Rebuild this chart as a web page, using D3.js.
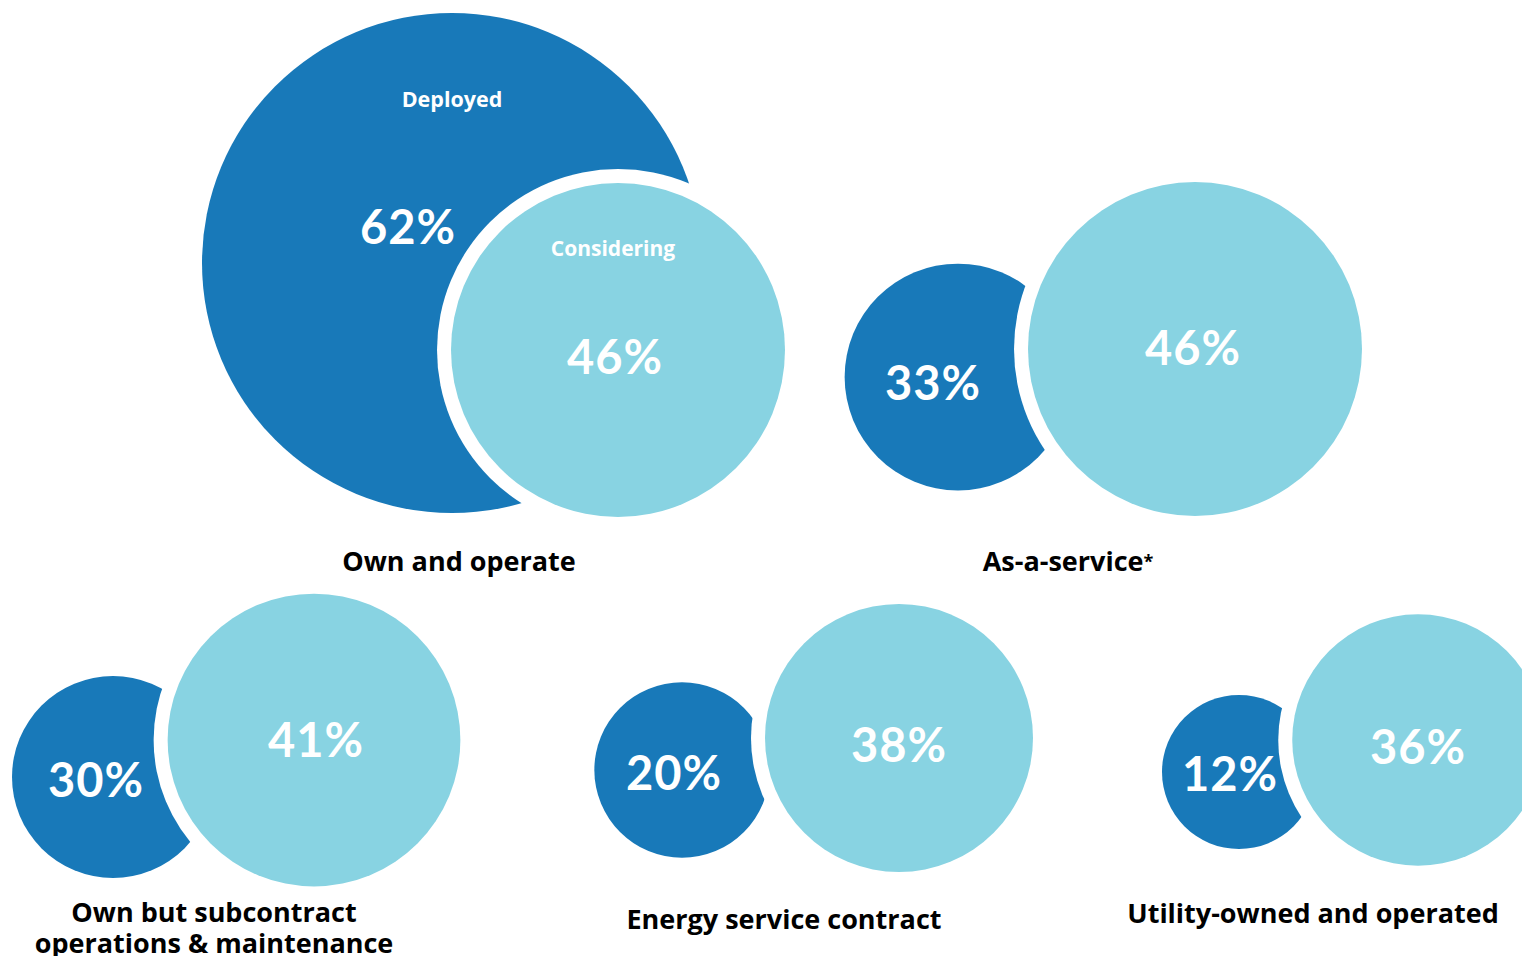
<!DOCTYPE html>
<html>
<head>
<meta charset="utf-8">
<script src="https://cdn.jsdelivr.net/npm/d3@7"></script>
<style>
  html, body { margin: 0; padding: 0; background: #ffffff; }
  svg { display: block; }
</style>
</head>
<body>
<svg id="chart" width="1522" height="956"></svg>
<script>
// ---------- data ----------
const categories = [
  "Own and operate",
  "As-a-service*",
  "Own but subcontract operations & maintenance",
  "Energy service contract",
  "Utility-owned and operated"
];
const seriesNames = ["Deployed", "Considering"];
const deployedValues = [62, 33, 30, 20, 12];
const consideringValues = [46, 46, 41, 38, 36];

// ---------- layout (positions only) ----------
const layout = [
  { d: [452, 263], c: [618, 350], dl: [408, 227], cl: [615, 357], t: [459, 571], lines: ["Own and operate"] },
  { d: [958, 377], c: [1195, 349], dl: [933, 383], cl: [1193, 348], t: [1068, 571], lines: ["As-a-service"], star: true },
  { d: [113, 777], c: [314, 740], dl: [96, 780], cl: [316, 740], t: [214, 922], lines: ["Own but subcontract", "operations & maintenance"] },
  { d: [682, 770], c: [899, 738], dl: [674, 773], cl: [899, 745], t: [784, 929], lines: ["Energy service contract"] },
  { d: [1239, 772], c: [1418, 740], dl: [1230, 774], cl: [1418, 747], t: [1313, 923], lines: ["Utility-owned and operated"] }
];

const colorDeployed = "#1879b9";
const colorConsidering = "#88d3e2";
const gap = 14;

const svg = d3.select("#chart");

// radius scale: value (%) -> radius (px)
const r = d3.scaleLinear().domain([12, 30, 46, 62]).range([77, 101, 167, 250]);

const pct = d3.format(".0f");

const data = categories.map((name, i) => ({
  name, deployed: deployedValues[i], considering: consideringValues[i], L: layout[i]
}));

const groups = svg.selectAll("g.pair").data(data).join("g").attr("class", "pair");

// deployed circle
groups.append("circle")
  .attr("cx", d => d.L.d[0]).attr("cy", d => d.L.d[1])
  .attr("r", d => r(d.deployed))
  .attr("fill", colorDeployed);

// white halo separating the two circles
groups.append("circle")
  .attr("cx", d => d.L.c[0]).attr("cy", d => d.L.c[1])
  .attr("r", d => r(d.considering) + gap)
  .attr("fill", "#ffffff");

// considering circle
groups.append("circle")
  .attr("cx", d => d.L.c[0]).attr("cy", d => d.L.c[1])
  .attr("r", d => r(d.considering))
  .attr("fill", colorConsidering);

const numFont = "Lato, 'Open Sans', sans-serif";
const numSize = 47;

groups.append("text")
  .attr("x", d => d.L.dl[0]).attr("y", d => d.L.dl[1])
  .attr("dy", "0.36em")
  .attr("text-anchor", "middle")
  .attr("fill", "#ffffff")
  .style("font-family", numFont).style("font-weight", 700).style("font-size", numSize + "px")
  .style("letter-spacing", "1px")
  .text(d => pct(d.deployed) + "%");

groups.append("text")
  .attr("x", d => d.L.cl[0]).attr("y", d => d.L.cl[1])
  .attr("dy", "0.36em")
  .attr("text-anchor", "middle")
  .attr("fill", "#ffffff")
  .style("font-family", numFont).style("font-weight", 700).style("font-size", numSize + "px")
  .style("letter-spacing", "1px")
  .text(d => pct(d.considering) + "%");

// series labels on the first pair
const first = data[0];
svg.append("text")
  .attr("x", first.L.d[0]).attr("y", 99).attr("dy", "0.35em")
  .attr("text-anchor", "middle").attr("fill", "#ffffff")
  .style("font-family", "'Open Sans', sans-serif").style("font-weight", 700).style("font-size", "21.5px")
  .text(seriesNames[0]);
svg.append("text")
  .attr("x", 613).attr("y", 249).attr("dy", "0.35em")
  .attr("text-anchor", "middle").attr("fill", "#ffffff")
  .style("font-family", "'Open Sans', sans-serif").style("font-weight", 700).style("font-size", "21px")
  .text(seriesNames[1]);

// category titles
const titles = groups.append("text")
  .attr("x", d => d.L.t[0]).attr("y", d => d.L.t[1])
  .attr("text-anchor", "middle")
  .attr("fill", "#000000")
  .style("font-family", "'Open Sans', sans-serif").style("font-weight", 700).style("font-size", "27px");

titles.each(function(d) {
  const t = d3.select(this);
  d.L.lines.forEach((line, j) => {
    t.append("tspan").attr("x", d.L.t[0]).attr("dy", j === 0 ? 0 : 31).text(line);
  });
  if (d.L.star) {
    t.append("tspan").style("font-size", "18px").attr("dy", -3).text("*");
  }
});
</script>
</body>
</html>
